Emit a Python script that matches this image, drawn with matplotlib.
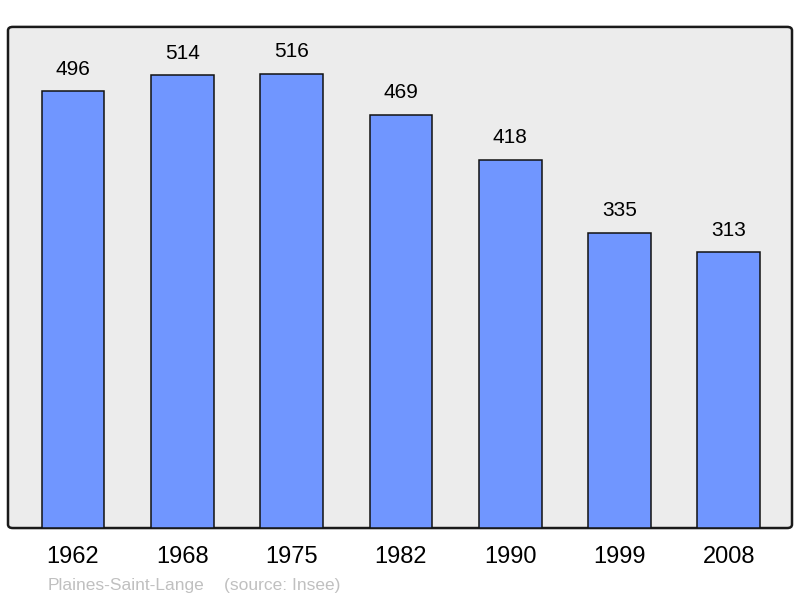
import matplotlib.pyplot as plt
from matplotlib.patches import FancyBboxPatch

plt.rcParams['font.family'] = ['Liberation Sans', 'DejaVu Sans']

years = ['1962', '1968', '1975', '1982', '1990', '1999', '2008']
population = [496, 514, 516, 469, 418, 335, 313]

fig = plt.figure(figsize=(8, 5.98), dpi=100)

# fond gris avec coins arrondis
frame = FancyBboxPatch((0.01, 0.117), 0.98, 0.838,
                       boxstyle='round,pad=0,rounding_size=0.006',
                       transform=fig.transFigure, facecolor='#ececec',
                       edgecolor='#1a1a1a', linewidth=1.8, zorder=0)
fig.patches.append(frame)

ax = fig.add_axes([0.01, 0.117, 0.98, 0.838])
ax.set_zorder(2)
ax.set_facecolor('none')

x = range(len(years))
ax.bar(x, population, width=0.574, color='#7096ff', edgecolor='#111111',
       linewidth=1.1, zorder=2)
for i, v in enumerate(population):
    ax.annotate(str(v), (i, v), xytext=(0, 9), textcoords='offset points',
                ha='center', va='bottom', fontsize=15)

ax.set_xlim(-0.595, 6.578)
ax.set_ylim(0, 569)
ax.set_xticks(list(x))
ax.set_xticklabels(years, fontsize=17)
ax.tick_params(axis='x', length=0, pad=13)
ax.set_yticks([])
for s in ax.spines.values():
    s.set_visible(False)

fig.text(0.06, 0.014, 'Plaines-Saint-Lange', color='#c0c0c0', fontsize=12.5)
fig.text(0.28, 0.014, '(source: Insee)', color='#c0c0c0', fontsize=12.5)

fig.savefig('out.png', dpi=100)
